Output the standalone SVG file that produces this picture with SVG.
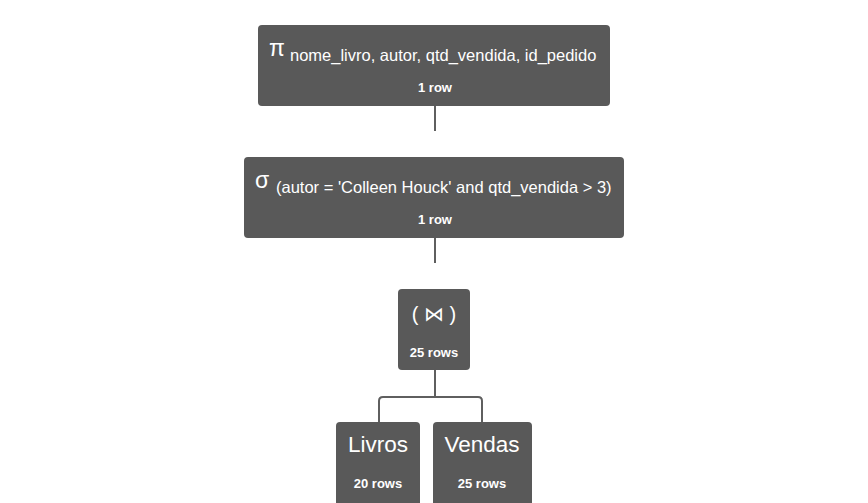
<svg xmlns="http://www.w3.org/2000/svg" width="868" height="503" viewBox="0 0 868 503">
<style>
.box{fill:#595959}
.t{font-family:"Liberation Sans",Arial,sans-serif;fill:#fff}
.big{font-size:20px}
.op{font-size:23px}
.sub{font-size:16.5px}
.rows{font-size:13px;font-weight:bold;text-anchor:middle}
.name{font-size:22.5px;text-anchor:middle}
.c{fill:none;stroke:#5f5f5f;stroke-width:2}
</style>
<rect width="868" height="503" fill="#fff"/>
<g id="connectors">
<path class="c" d="M435 106V131"/>
<path class="c" d="M435 238V263"/>
<path class="c" d="M435 370V397"/>
<path class="c" d="M379 422V401Q379 397 383 397H478Q482 397 482 401V422"/>
</g>
<g id="project">
<rect class="box" x="258" y="25" width="352" height="81" rx="4"/>
<text class="t op" x="269" y="56">π</text>
<text class="t sub" x="290" y="61">nome_livro, autor, qtd_vendida, id_pedido</text>
<text class="t rows" x="435" y="92">1 row</text>
</g>
<g id="select">
<rect class="box" x="244" y="157" width="380" height="81" rx="4"/>
<text class="t op" x="255" y="188">σ</text>
<text class="t sub" x="276" y="193">(autor = 'Colleen Houck' and qtd_vendida &gt; 3)</text>
<text class="t rows" x="435" y="224">1 row</text>
</g>
<g id="join">
<rect class="box" x="398" y="289" width="72" height="81" rx="4"/>
<text class="t big" x="434" y="321" text-anchor="middle">( ⋈ )</text>
<text class="t rows" x="434" y="357">25 rows</text>
</g>
<g id="livros">
<rect class="box" x="336" y="422" width="84" height="85" rx="4"/>
<text class="t name" x="378" y="452">Livros</text>
<text class="t rows" x="378" y="488">20 rows</text>
</g>
<g id="vendas">
<rect class="box" x="433" y="422" width="99" height="85" rx="4"/>
<text class="t name" x="482" y="452">Vendas</text>
<text class="t rows" x="482" y="488">25 rows</text>
</g>
</svg>
